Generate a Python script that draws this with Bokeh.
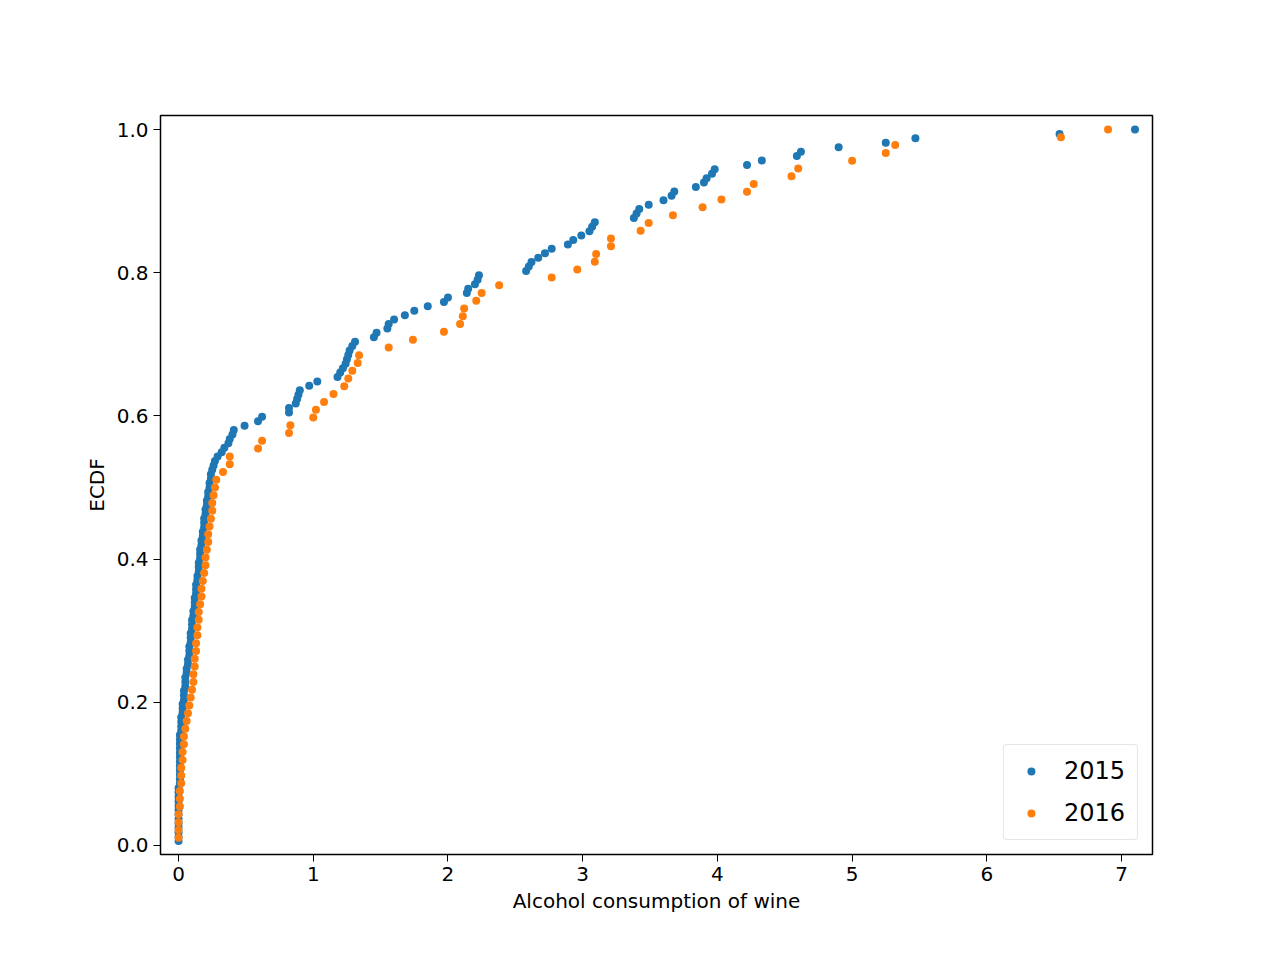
import numpy as np
from bokeh.plotting import figure
from bokeh.models import Range1d, FixedTicker, PrintfTickFormatter
from bokeh.embed import file_html
from bokeh.resources import INLINE

# sorted wine consumption values
wine_2015 = [0.0]*13 + [0.01]*10 + [
    0.01, 0.01, 0.02, 0.02, 0.02, 0.02, 0.03, 0.03, 0.03, 0.04, 0.04,
    0.04, 0.05, 0.05, 0.05, 0.06, 0.06, 0.07, 0.07, 0.08, 0.08, 0.08, 0.09, 0.09, 0.09,
    0.10, 0.10, 0.10, 0.11, 0.11, 0.12, 0.12, 0.12, 0.13, 0.13, 0.13, 0.14, 0.14, 0.15,
    0.15, 0.15, 0.16, 0.16, 0.16, 0.17, 0.17, 0.18, 0.18, 0.19, 0.19, 0.19, 0.20, 0.20,
    0.21, 0.21, 0.22, 0.22, 0.23, 0.23, 0.24, 0.24, 0.25, 0.26, 0.27,
    0.29, 0.32, 0.34, 0.37, 0.38, 0.40, 0.41, 0.49, 0.59, 0.62,
    0.82, 0.82, 0.87, 0.88, 0.89, 0.90, 0.97, 1.03,
    1.18, 1.20, 1.22, 1.24, 1.25, 1.26, 1.27, 1.29, 1.31,
    1.45, 1.47, 1.55, 1.56, 1.60, 1.68, 1.75, 1.85, 1.97, 2.00,
    2.14, 2.15, 2.20, 2.22, 2.23, 2.58, 2.60, 2.62, 2.67, 2.72, 2.77,
    2.89, 2.93, 2.99, 3.05, 3.07, 3.09, 3.38, 3.40, 3.42, 3.49, 3.60, 3.66, 3.68,
    3.84, 3.90, 3.92, 3.96, 3.98, 4.22, 4.33, 4.59, 4.62, 4.90, 5.25, 5.47, 6.54, 7.10]

wine_2016 = [
    0.0, 0.0, 0.0, 0.0, 0.01, 0.01, 0.01, 0.02, 0.02,
    0.02, 0.03, 0.03, 0.04, 0.04, 0.05, 0.06, 0.07, 0.08,
    0.09, 0.10, 0.11, 0.11, 0.12, 0.12, 0.13, 0.13, 0.14,
    0.14, 0.15, 0.15, 0.16, 0.17, 0.17, 0.18, 0.19, 0.20,
    0.20, 0.21, 0.22, 0.22, 0.23, 0.24, 0.25, 0.25, 0.26, 0.27,
    0.28, 0.33, 0.38, 0.38, 0.59, 0.62, 0.82, 0.83, 1.00, 1.02,
    1.08, 1.15, 1.23, 1.26, 1.29, 1.33, 1.34, 1.56, 1.74, 1.97,
    2.09, 2.11, 2.12, 2.21, 2.25, 2.38, 2.77, 2.96, 3.09, 3.10,
    3.21, 3.21, 3.43, 3.49, 3.67, 3.89, 4.03, 4.22, 4.27, 4.55,
    4.60, 5.00, 5.25, 5.32, 6.55, 6.90]


def ecdf(vals):
    x = np.sort(np.array(vals))
    y = np.arange(1, len(x) + 1) / len(x)
    return x, y


p = figure(width=1264, height=944, output_backend="svg", toolbar_location=None,
           min_border_left=160, min_border_right=112, min_border_top=115,
           min_border_bottom=90)
p.x_range = Range1d(-0.134, 7.23)
p.y_range = Range1d(-0.0126, 1.0196)

x15, y15 = ecdf(wine_2015)
x16, y16 = ecdf(wine_2016)
p.scatter(x15, y15, size=8, color="#1f77b4", line_color=None, legend_label="2015")
p.scatter(x16, y16, size=8, color="#ff7f0e", line_color=None, legend_label="2016")

p.grid.visible = False
p.outline_line_color = "black"
p.outline_line_width = 1.5
for ax in (p.xaxis, p.yaxis):
    ax.major_tick_out = 7
    ax.major_tick_in = 0
    ax.minor_tick_line_color = None
    ax.axis_line_color = None
    ax.major_label_text_font = "DejaVu Sans"
    ax.major_label_text_font_size = "20px"
    ax.major_label_text_color = "black"
    ax.axis_label_text_font = "DejaVu Sans"
    ax.axis_label_text_font_size = "20px"
    ax.axis_label_text_font_style = "normal"
    ax.axis_label_text_color = "black"
p.xaxis.ticker = FixedTicker(ticks=[0, 1, 2, 3, 4, 5, 6, 7])
p.yaxis.ticker = FixedTicker(ticks=[0, 0.2, 0.4, 0.6, 0.8, 1.0])
p.yaxis.formatter = PrintfTickFormatter(format="%.1f")
p.xaxis.axis_label = "Alcohol consumption of wine"
p.yaxis.axis_label = "ECDF"

p.legend.location = "bottom_right"
p.legend.margin = 14
p.legend.padding = 12
p.legend.spacing = 14
p.legend.glyph_width = 30
p.legend.label_standoff = 18
p.legend.label_text_font = "DejaVu Sans"
p.legend.label_text_font_size = "24px"
p.legend.label_text_color = "black"
p.legend.border_line_color = "#cccccc"
p.legend.border_line_width = 1.5
p.legend.border_radius = 4
p.legend.background_fill_alpha = 0.8

open("out.html", "w").write(file_html(p, INLINE))
